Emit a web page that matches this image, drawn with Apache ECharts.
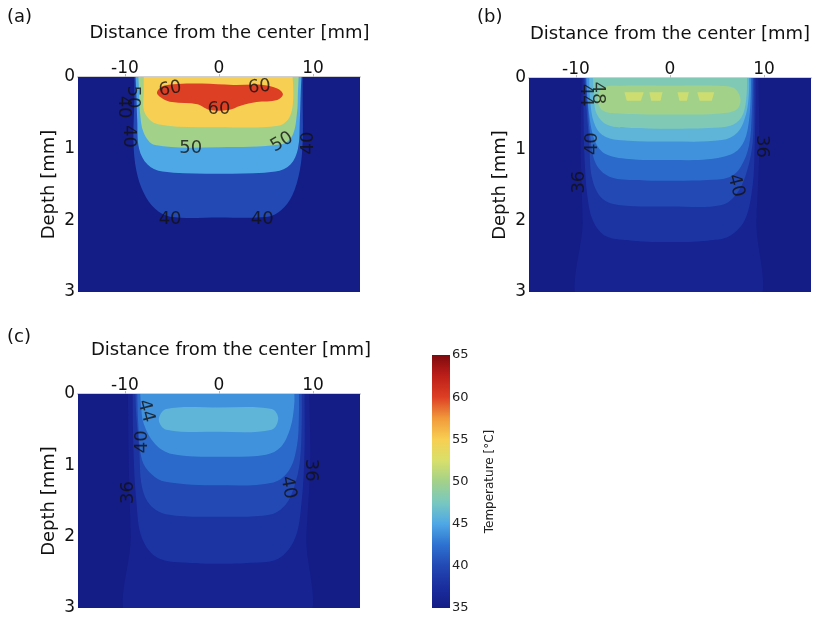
<!DOCTYPE html>
<html><head><meta charset="utf-8">
<script src="https://cdn.jsdelivr.net/npm/echarts@6/dist/echarts.min.js"></script>
<style>html,body{margin:0;padding:0;background:#fff}#c{width:818px;height:620px}</style>
</head><body><div id="c"></div>
<script>
// ---------- axes / ticks ----------
const xTicks = [-10, 0, 10];
const xRange = [-15, 15];
const depthTicks = [0, 1, 2, 3];
const depthRange = [0, 3];
const tempRange = [35, 65];
const tempTickStep = 5;
const panelNames = ['(a)', '(b)', '(c)'];
const xTitle = 'Distance from the center [mm]';
const yTitle = 'Depth [mm]';
const cbTitle = 'Temperature [°C]';
// colour map sampled from the reference colour bar, 35 -> 65 every 2.5 °C
const colormap = ['#141c86', '#1a2e9e', '#2349b4', '#2d72d0', '#4fa8e6', '#78c8c0', '#a2d18a',
                  '#d8e06a', '#f7cf52', '#f19a3a', '#dd3f24', '#bd1f19', '#7e0a0e'];

// ---------- isotherm outlines [x mm, depth mm] ----------
const baseRegion = [[-15, -0.2], [15, -0.2], [15, 3.2], [-15, 3.2]];

// panel (a): levels 40..60 step 5
const levelsA = [35, 40, 45, 50, 55, 60];
const isoA40 = [[-9.0, -0.1], [-9.0, 0.3], [-9.1, 0.9], [-8.8, 1.3], [-8.0, 1.62], [-6.8, 1.84], [-5.2, 1.95], [0, 1.96], [5.2, 1.95], [6.6, 1.86], [7.8, 1.65], [8.6, 1.3], [8.9, 0.9], [8.9, 0.3], [8.9, -0.1]];
const isoA45 = [[-8.9, -0.1], [-8.8, 0.2], [-8.7, 0.6], [-8.5, 1.0], [-7.6, 1.22], [-6.0, 1.32], [0, 1.35], [6.0, 1.32], [7.6, 1.22], [8.4, 1.0], [8.6, 0.6], [8.7, 0.2], [8.8, -0.1]];
const isoA50 = [[-8.6, -0.1], [-8.5, 0.2], [-8.4, 0.5], [-8.0, 0.78], [-6.8, 0.95], [0, 0.98], [6.6, 0.94], [7.8, 0.82], [8.3, 0.5], [8.4, 0.2], [8.5, -0.1]];
const isoA55 = [[-8.0, -0.1], [-8.0, 0.2], [-7.9, 0.5], [-6.5, 0.66], [0, 0.70], [6.3, 0.68], [7.5, 0.56], [7.9, 0.3], [7.8, -0.1]];
const isoA60 = [[-6.6, 0.22], [-5.8, 0.12], [-2.0, 0.09], [1.5, 0.11], [4.7, 0.11], [6.2, 0.16], [6.8, 0.24], [6.2, 0.32], [4.0, 0.35], [2.3, 0.40], [1.0, 0.46], [-1.0, 0.46], [-2.3, 0.38], [-5.0, 0.35], [-5.9, 0.31]];
const outlinesA = [baseRegion, isoA40, isoA45, isoA50, isoA55, isoA60];
const labelsA = [
  [-5.2, 0.17, '60', 10], [4.3, 0.14, '60', 5], [0.0, 0.45, '60', 0],
  [-9.2, 0.28, '50', -90], [-10.1, 0.42, '40', -90], [-9.6, 0.83, '40', -90],
  [-3.0, 1.0, '50', 0], [6.7, 0.91, '50', 30], [9.55, 0.92, '40', 90],
  [-5.2, 1.99, '40', 0], [4.6, 1.99, '40', 0]
];

// panel (b): levels 36..52 step 2
const levelsB = [35, 36, 38, 40, 42, 44, 46, 48, 50, 52, 52, 52, 52];
const isoB36 = [[-9.4, -0.1], [-9.5, 1.0], [-9.3, 2.0], [-9.2, 3.2], [8.9, 3.2], [9.2, 2.0], [9.5, 1.0], [9.4, -0.1]];
const isoB38 = [[-9.2, -0.1], [-9.2, 0.5], [-9.1, 1.1], [-8.8, 1.65], [-8.2, 2.0], [-6.8, 2.22], [-4, 2.28], [0, 2.3], [4, 2.28], [6.3, 2.22], [8.0, 1.98], [8.8, 1.5], [9.0, 1.0], [9.1, 0.4], [9.1, -0.1]];
const isoB40 = [[-9.1, -0.1], [-8.9, 0.4], [-8.6, 0.9], [-8.3, 1.4], [-7.3, 1.68], [-5.5, 1.78], [0, 1.8], [5.5, 1.78], [7.2, 1.6], [8.2, 1.3], [8.8, 0.9], [8.9, 0.4], [8.9, -0.1]];
const isoB42 = [[-9.0, -0.1], [-8.8, 0.3], [-8.5, 0.8], [-7.9, 1.2], [-6.5, 1.38], [-4, 1.43], [0, 1.44], [4, 1.43], [6.3, 1.39], [7.5, 1.25], [8.4, 0.95], [8.7, 0.5], [8.8, -0.1]];
const isoB44 = [[-8.9, -0.1], [-8.7, 0.4], [-8.0, 0.88], [-6.8, 1.07], [-4, 1.14], [0, 1.15], [4, 1.14], [6.8, 1.05], [7.9, 0.88], [8.4, 0.6], [8.6, 0.2], [8.6, -0.1]];
const isoB46 = [[-8.6, -0.1], [-8.5, 0.3], [-8.1, 0.62], [-7.2, 0.8], [-5.5, 0.87], [0, 0.89], [5.5, 0.87], [7.2, 0.76], [8.1, 0.5], [8.4, 0.2], [8.4, -0.1]];
const isoB48 = [[-8.2, -0.1], [-8.1, 0.25], [-7.8, 0.5], [-6.6, 0.66], [-4, 0.7], [0, 0.71], [4, 0.7], [6.4, 0.67], [7.6, 0.55], [8.1, 0.3], [8.2, -0.1]];
const isoB50 = [[-7.7, 0.3], [-7.2, 0.14], [-5, 0.11], [0, 0.11], [5, 0.11], [6.8, 0.14], [7.5, 0.3], [7.0, 0.45], [5, 0.5], [0, 0.51], [-5, 0.5], [-7.1, 0.46]];
const isoB52a = [[-4.85, 0.2], [-2.8, 0.2], [-3.1, 0.32], [-4.6, 0.32]];
const isoB52b = [[-2.2, 0.2], [-0.8, 0.2], [-1.0, 0.32], [-2.0, 0.32]];
const isoB52c = [[0.8, 0.2], [2.0, 0.2], [1.8, 0.32], [1.0, 0.32]];
const isoB52d = [[2.9, 0.2], [4.7, 0.2], [4.45, 0.32], [3.15, 0.32]];
const outlinesB = [baseRegion, isoB36, isoB38, isoB40, isoB42, isoB44, isoB46, isoB48, isoB50, isoB52a, isoB52b, isoB52c, isoB52d];
const labelsB = [
  [-7.7, 0.21, '48', -90], [-9.0, 0.24, '44', -90], [-8.3, 0.92, '40', 90],
  [-9.6, 1.46, '36', 90], [9.75, 0.96, '36', -90], [7.0, 1.51, '40', -75]
];

// panel (c): levels 36..46 step 2
const levelsC = [35, 36, 38, 40, 42, 44, 46];
const isoC36 = [[-9.7, -0.1], [-9.6, 1.0], [-9.4, 2.0], [-9.3, 3.2], [9.0, 3.2], [9.3, 2.0], [9.7, 1.0], [9.6, -0.1]];
const isoC38 = [[-9.2, -0.1], [-9.1, 0.8], [-8.8, 1.5], [-8.2, 2.02], [-6.5, 2.3], [-3, 2.37], [0, 2.38], [3, 2.37], [6.3, 2.31], [8.1, 2.02], [8.8, 1.5], [9.1, 0.8], [9.1, -0.1]];
const isoC40 = [[-8.9, -0.1], [-8.8, 0.3], [-8.5, 0.75], [-8.2, 1.3], [-7.3, 1.56], [-5.5, 1.69], [0, 1.72], [5.5, 1.69], [7.1, 1.55], [8.0, 1.3], [8.6, 0.95], [8.8, 0.4], [8.8, -0.1]];
const isoC42 = [[-8.7, -0.1], [-8.6, 0.4], [-8.2, 0.92], [-7.2, 1.12], [-5.7, 1.23], [0, 1.28], [5.8, 1.24], [7.5, 1.06], [8.3, 0.72], [8.5, 0.3], [8.5, -0.1]];
const isoC44 = [[-8.4, -0.1], [-8.3, 0.15], [-8.0, 0.42], [-6.8, 0.7], [-5.0, 0.84], [0, 0.88], [5.0, 0.85], [6.6, 0.74], [7.6, 0.47], [8.0, 0.15], [8.0, -0.1]];
const isoC46 = [[-6.4, 0.36], [-5.6, 0.21], [0, 0.19], [5.6, 0.21], [6.3, 0.34], [5.6, 0.5], [0, 0.53], [-5.6, 0.5]];
const outlinesC = [baseRegion, isoC36, isoC38, isoC40, isoC42, isoC44, isoC46];
const labelsC = [
  [-7.8, 0.24, '44', -75], [-8.2, 0.67, '40', 90], [-9.6, 1.38, '36', 90],
  [9.8, 1.07, '36', -90], [7.35, 1.31, '40', -80]
];

// ---------- layout ----------
const FONT = 'DejaVu Sans';
const grids = [
  {left: 78, top: 77, width: 282, height: 215},
  {left: 529, top: 78, width: 282, height: 214},
  {left: 78, top: 394, width: 282, height: 214},
  {left: 432, top: 355, width: 18, height: 253}
];
const titleShift = [21, 0, 24];

const chart = echarts.init(document.getElementById('c'), null, {renderer: 'canvas'});

function extendOpen(outline) {
  if (outline[0][1] < 0 && outline.length > 4) {
    const a = outline[0], b = outline[outline.length - 1];
    return [[a[0], -0.8], [a[0], -0.4]].concat(outline, [[b[0], -0.4], [b[0], -0.8]]);
  }
  return outline;
}

function bandSeries(gi, levels, outlines) {
  return {
    type: 'custom', xAxisIndex: gi, yAxisIndex: gi, clip: true, silent: true,
    dimensions: ['level', 'idx'],
    encode: {x: 0, y: 1},
    data: levels.map((lv, i) => [lv, i]),
    renderItem: function (params, api) {
      const idx = api.value(1);
      const raw = extendOpen(outlines[idx]);
      const pts = raw.map(p => api.coord(p));
      return {
        type: 'polygon',
        shape: {points: pts, smooth: raw.length > 4 ? 0.35 : 0},
        style: {fill: api.visual('color'), stroke: null}
      };
    }
  };
}

function labelSeries(gi, labels) {
  return {
    type: 'scatter', xAxisIndex: gi, yAxisIndex: gi, symbolSize: 0, silent: true, z: 5,
    data: labels.map(l => ({value: [l[0], l[1]], label: {rotate: l[3], formatter: l[2]}})),
    label: {show: true, position: 'inside', color: '#111', fontSize: 18, fontFamily: FONT}
  };
}

// colour bar drawn in its own grid from the temperature range
const colorBarSeries = {
  type: 'custom', xAxisIndex: 3, yAxisIndex: 3, silent: true,
  data: [[0, tempRange[0], 1, tempRange[1]]],
  renderItem: function (params, api) {
    const tl = api.coord([api.value(0), api.value(3)]);
    const br = api.coord([api.value(2), api.value(1)]);
    const n = colormap.length;
    const stops = colormap.map((c, i) => ({offset: i / (n - 1), color: colormap[n - 1 - i]}));
    return {
      type: 'rect',
      shape: {x: tl[0], y: tl[1], width: br[0] - tl[0], height: br[1] - tl[1]},
      style: {fill: {type: 'linear', x: 0, y: 0, x2: 0, y2: 1, colorStops: stops}}
    };
  }
};

const xAxes = [0, 1, 2].map(i => ({
  gridIndex: i, type: 'value', position: 'top', min: xRange[0], max: xRange[1],
  name: xTitle, nameLocation: 'middle', nameGap: 35,
  nameTextStyle: {fontSize: 18, fontFamily: FONT, color: '#111', padding: [0, 0, 0, titleShift[i]]},
  axisLine: {show: true, lineStyle: {color: '#cfcfcf', width: 2}},
  axisTick: {show: true, inside: false, length: 3, customValues: xTicks, lineStyle: {color: '#bbb'}},
  axisLabel: {customValues: xTicks, fontSize: 17, fontFamily: FONT, color: '#111', margin: 0},
  splitLine: {show: false}
}));
xAxes.push({gridIndex: 3, type: 'value', show: false, min: 0, max: 1});

const yAxes = [0, 1, 2].map(i => ({
  gridIndex: i, type: 'value', inverse: true, min: depthRange[0], max: depthRange[1], interval: 1,
  name: yTitle, nameLocation: 'middle', nameGap: 20, nameRotate: 90,
  nameTextStyle: {fontSize: 18, fontFamily: FONT, color: '#111'},
  axisLine: {show: false}, axisTick: {show: false},
  axisLabel: {fontSize: 17, fontFamily: FONT, color: '#111', margin: 3},
  splitLine: {show: false}
}));
yAxes.push({
  gridIndex: 3, type: 'value', position: 'right', min: tempRange[0], max: tempRange[1], interval: tempTickStep,
  name: cbTitle, nameLocation: 'middle', nameRotate: 90, nameGap: 34,
  nameTextStyle: {fontSize: 12, fontFamily: FONT, color: '#222'},
  axisLine: {show: false}, axisTick: {show: false},
  axisLabel: {fontSize: 13, fontFamily: FONT, color: '#222', margin: 2},
  splitLine: {show: false}
});

const option = {
  animation: false,
  backgroundColor: '#fff',
  title: [
    {text: panelNames[0], left: 2, top: 3},
    {text: panelNames[1], left: 472, top: 3},
    {text: panelNames[2], left: 2, top: 323}
  ].map(t => Object.assign(t, {textStyle: {fontSize: 18, fontWeight: 'normal', fontFamily: FONT, color: '#111'}})),
  grid: grids.map(g => Object.assign({outerBoundsMode: 'none', containLabel: false}, g)),
  xAxis: xAxes,
  yAxis: yAxes,
  visualMap: {
    type: 'continuous', show: false, min: tempRange[0], max: tempRange[1], dimension: 0, seriesIndex: [0, 1, 2],
    inRange: {color: colormap}
  },
  series: [
    bandSeries(0, levelsA, outlinesA),
    bandSeries(1, levelsB, outlinesB),
    bandSeries(2, levelsC, outlinesC),
    labelSeries(0, labelsA),
    labelSeries(1, labelsB),
    labelSeries(2, labelsC),
    colorBarSeries
  ]
};
chart.setOption(option);
</script></body></html>
